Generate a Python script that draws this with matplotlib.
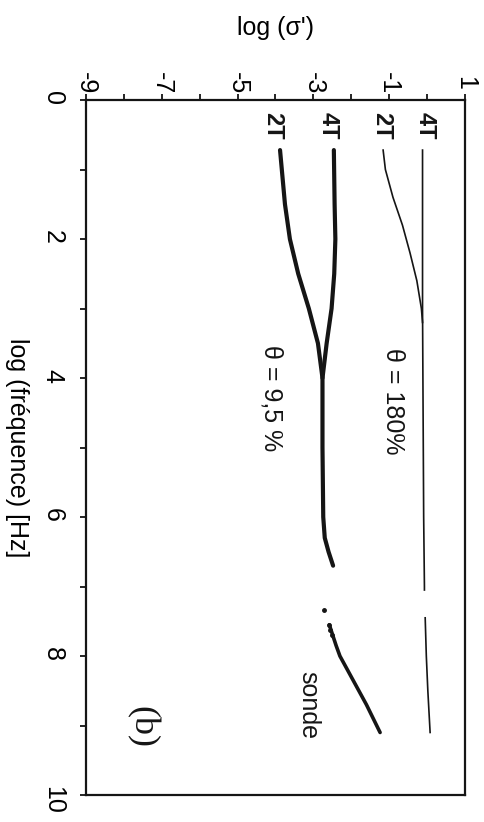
import numpy as np
import matplotlib
matplotlib.use('Agg')
import matplotlib.pyplot as plt

plt.rcParams['font.family'] = ['Liberation Sans', 'DejaVu Sans']

# log(frequence) and log(sigma') (figure is rotated 90 deg)
f_4T_hi = [0.72, 2.0, 3.0, 4.0, 5.0, 6.0, 7.0, 7.05]
s_4T_hi = [-0.12, -0.12, -0.12, -0.11, -0.10, -0.09, -0.07, -0.07]
f_4T_hi_b = [7.45, 8.0, 8.5, 9.1]
s_4T_hi_b = [-0.05, -0.02, 0.02, 0.08]

f_2T_hi = [0.72, 1.0, 1.4, 1.8, 2.2, 2.6, 3.0, 3.2]
s_2T_hi = [-1.16, -1.1, -0.9, -0.65, -0.45, -0.27, -0.15, -0.12]

f_4T_lo = [0.72, 1.5, 2.0, 2.5, 3.0, 3.5, 4.0, 5.0, 6.0, 6.3, 6.5, 6.7]
s_4T_lo = [-2.46, -2.44, -2.42, -2.45, -2.52, -2.65, -2.76, -2.76, -2.74, -2.7, -2.6, -2.48]

f_2T_lo = [0.72, 1.5, 2.0, 2.5, 3.0, 3.5, 4.0]
s_2T_lo = [-3.88, -3.75, -3.62, -3.4, -3.12, -2.88, -2.76]

f_sonde = [7.55, 7.65, 7.75, 7.85, 8.0, 8.35, 8.7, 9.1]
s_sonde = [-2.58, -2.52, -2.46, -2.4, -2.3, -1.95, -1.6, -1.24]
f_sonde_pts = [7.34, 7.55, 7.62, 7.7]
s_sonde_pts = [-2.72, -2.6, -2.55, -2.5]

x_ticks = [-9, -7, -5, -3, -1, 1]
y_ticks = [0, 2, 4, 6, 8, 10]

fig = plt.figure(figsize=(4.84, 8.22), dpi=100)
ax = fig.add_axes([0.1777, 0.0328, 0.783, 0.8455])

ink = '#151515'
ax.plot(s_4T_hi, f_4T_hi, color=ink, lw=1.2)
ax.plot(s_4T_hi_b, f_4T_hi_b, color=ink, lw=1.2)
ax.plot(s_2T_hi, f_2T_hi, color=ink, lw=1.2)
ax.plot(s_4T_lo, f_4T_lo, color=ink, lw=3.0, solid_capstyle='round')
ax.plot(s_2T_lo, f_2T_lo, color=ink, lw=3.0, solid_capstyle='round')
ax.plot(s_sonde, f_sonde, color=ink, lw=2.6, solid_capstyle='round')
ax.plot(s_sonde_pts, f_sonde_pts, 'o', color=ink, ms=2.5)

ax.set_xlim(-9, 1)
ax.set_ylim(10, 0)
ax.xaxis.tick_top()
ax.set_xticks(x_ticks)
ax.set_xticks(np.arange(-9, 1.5, 1), minor=True)
ax.set_yticks(y_ticks)
ax.set_yticks(np.arange(0, 10.5, 1), minor=True)
ax.set_xticklabels([str(v) for v in x_ticks], rotation=270, va='center', fontsize=18)
ax.set_yticklabels([str(v) for v in y_ticks], rotation=270, ha='center', fontsize=18)
ax.tick_params(axis='x', which='both', direction='out', length=4, width=1.2, pad=8)
ax.tick_params(axis='y', which='both', direction='out', length=4, width=1.2, pad=20)
for sp in ax.spines.values():
    sp.set_linewidth(1.6)
    sp.set_color(ink)

ax.xaxis.set_label_position('top')
ax.set_xlabel("log (σ')", fontsize=18)
ax.xaxis.set_label_coords(0.5, 1.093)
ax.set_ylabel('log (fréquence) [Hz]', fontsize=18, rotation=270, va='center')
ax.yaxis.set_label_coords(-0.182, 0.5)

lab = dict(rotation=270, ha='center', va='center', fontsize=17, fontweight='bold', color=ink)
ax.text(-0.06, 0.37, '4T', **lab)
ax.text(-1.19, 0.37, '2T', **lab)
ax.text(-2.61, 0.37, '4T', **lab)
ax.text(-4.07, 0.37, '2T', **lab)

ax.text(-0.9, 4.33, 'θ = 180%', rotation=270, ha='center', va='center', fontsize=18, color=ink)
ax.text(-4.1, 4.29, 'θ = 9,5 %', rotation=270, ha='center', va='center', fontsize=18, color=ink)
ax.text(-3.14, 8.7, 'sonde', rotation=270, ha='center', va='center', fontsize=18, color=ink)
ax.text(-7.52, 9.02, '(b)', rotation=270, ha='center', va='center', fontsize=26,
        family='Liberation Serif', color=ink)

fig.savefig('out.png', dpi=100)
